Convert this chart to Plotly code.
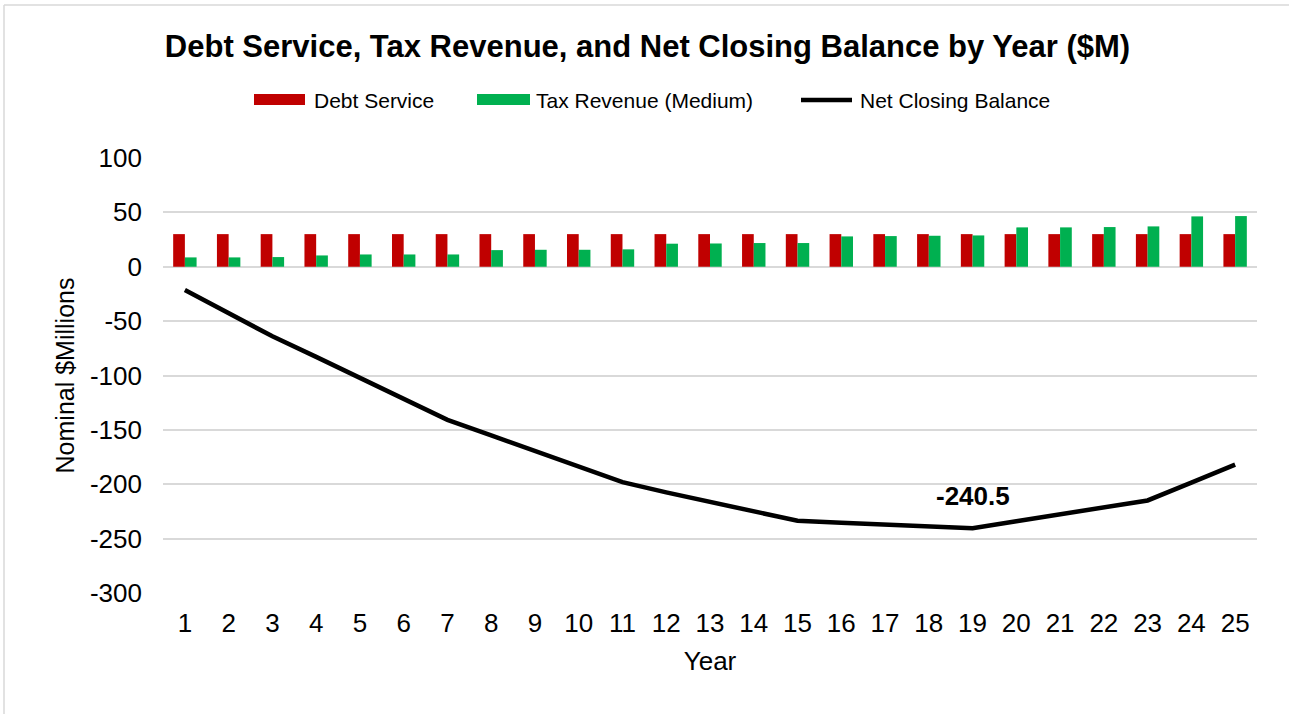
import plotly.graph_objects as go

# ---- data ----
years = list(range(1, 26))
debt_service = [30.0, 30.0, 30.0, 30.0, 30.0, 30.0, 30.0, 30.0, 30.0, 30.0, 30.0, 30.0, 30.0,
                30.0, 30.0, 30.0, 30.0, 30.0, 30.0, 30.0, 30.0, 30.0, 30.0, 30.0, 30.0]
tax_revenue = [8.6, 8.6, 8.9, 10.4, 11.3, 11.3, 11.3, 15.3, 15.6, 15.6, 16.0, 21.2, 21.4,
               21.8, 21.8, 27.9, 28.2, 28.5, 28.8, 36.2, 36.2, 36.5, 37.1, 46.3, 46.6]
net_balance = [-21.4, -42.6, -64.0, -82.9, -102.3, -121.7, -140.8, -155.0, -169.5, -184.0,
               -198.1, -207.5, -216.5, -225.0, -233.6, -235.3, -237.0, -238.8, -240.5, -234.0,
               -227.7, -221.3, -214.9, -198.5, -182.0]
y_ticks = [100, 50, 0, -50, -100, -150, -200, -250, -300]

series_names = ["Debt Service", "Tax Revenue (Medium)", "Net Closing Balance"]
RED = "#C00000"
GREEN = "#00B050"
BLACK = "#000000"
FONT = "Liberation Sans, Arial, sans-serif"

W, H = 1289, 714
ML, MR, MT, MB = 163, 32, 158, 121
PW, PH = W - ML - MR, H - MT - MB


def px(x):
    return (x - ML) / PW


def py(y):
    return (H - MB - y) / PH


fig = go.Figure()
fig.add_trace(go.Bar(x=years, y=debt_service, name=series_names[0],
                     marker=dict(color=RED, line=dict(width=0)), showlegend=False))
fig.add_trace(go.Bar(x=years, y=tax_revenue, name=series_names[1],
                     marker=dict(color=GREEN, line=dict(width=0)), showlegend=False))
fig.add_trace(go.Scatter(x=years, y=net_balance, name=series_names[2], mode="lines",
                         line=dict(color=BLACK, width=4.5), showlegend=False))

# label at minimum of net balance
i_min = min(range(len(net_balance)), key=lambda i: net_balance[i])
annotations = [dict(x=years[i_min], y=net_balance[i_min], xref="x", yref="y",
                    text=f"{net_balance[i_min]:.1f}", showarrow=False, yshift=32,
                    font=dict(family=FONT, size=26, color=BLACK, weight="bold"))]

# custom legend
shapes = []
legend_items = [(254, 305, 312, "bar", RED), (477, 530, 534, "bar", GREEN),
                (799, 854, 858, "line", BLACK)]
for (x0, x1, tx, kind, col), name in zip(legend_items, series_names):
    if kind == "bar":
        shapes.append(dict(type="rect", xref="paper", yref="paper",
                           x0=px(x0), x1=px(x1), y0=py(105), y1=py(94),
                           fillcolor=col, line=dict(width=0)))
    else:
        shapes.append(dict(type="line", xref="paper", yref="paper",
                           x0=px(x0 + 2), x1=px(x1 - 2), y0=py(100), y1=py(100),
                           line=dict(color=col, width=4.5)))
    annotations.append(dict(x=px(tx), y=py(100), xref="paper", yref="paper",
                            text=name, showarrow=False, xanchor="left", yanchor="middle",
                            font=dict(family=FONT, size=21, color=BLACK)))

# outer border (top and left)
shapes.append(dict(type="line", xref="paper", yref="paper", x0=px(4), x1=px(1300),
                   y0=py(5), y1=py(5), line=dict(color="#d9d9d9", width=1.5)))
shapes.append(dict(type="line", xref="paper", yref="paper", x0=px(4), x1=px(4),
                   y0=py(5), y1=py(720), line=dict(color="#d9d9d9", width=1.5)))

fig.update_layout(
    width=W, height=H,
    margin=dict(l=ML, r=MR, t=MT, b=MB),
    paper_bgcolor="white", plot_bgcolor="white",
    barmode="group", bargap=0.465, bargroupgap=0,
    title=dict(text="Debt Service, Tax Revenue, and Net Closing Balance by Year ($M)",
               x=647.5 / W, xanchor="center", y=1 - 46 / H, yanchor="middle",
               font=dict(family=FONT, size=31, color=BLACK, weight="bold")),
    font=dict(family=FONT, color=BLACK),
    shapes=shapes,
    annotations=annotations,
)
fig.update_xaxes(range=[0.5, 25.5], tickmode="array", tickvals=years,
                 ticktext=[str(y) for y in years], showgrid=False, zeroline=False,
                 showline=False, ticks="", ticklabelstandoff=12,
                 tickfont=dict(family=FONT, size=26, color=BLACK),
                 title=dict(text="Year", standoff=14,
                            font=dict(family=FONT, size=26, color=BLACK)))
fig.update_yaxes(range=[-300, 100], tickmode="array", tickvals=y_ticks,
                 ticktext=[str(v) for v in y_ticks], showgrid=True,
                 gridcolor="#d9d9d9", gridwidth=1.5, zeroline=False, showline=False,
                 ticks="", ticklabelstandoff=20,
                 tickfont=dict(family=FONT, size=26, color=BLACK),
                 title=dict(text="Nominal $Millions", standoff=8,
                            font=dict(family=FONT, size=25, color=BLACK)))

fig.write_html("out.html")
